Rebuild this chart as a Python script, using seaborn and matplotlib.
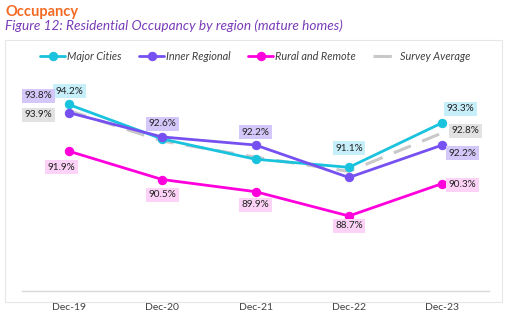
import matplotlib
matplotlib.use("Agg")
import matplotlib.pyplot as plt
from matplotlib.patches import Rectangle
import seaborn as sns
import pandas as pd

periods = ["Dec-19", "Dec-20", "Dec-21", "Dec-22", "Dec-23"]
major_cities = [94.2, 92.5, 91.5, 91.1, 93.3]
inner_regional = [93.8, 92.6, 92.2, 90.6, 92.2]
rural_remote = [91.9, 90.5, 89.9, 88.7, 90.3]
survey_average = [93.9, 92.4, 91.6, 90.9, 92.8]

series_names = ["Major Cities", "Inner Regional", "Rural and Remote", "Survey Average"]
series_values = [major_cities, inner_regional, rural_remote, survey_average]
line_colors = ["#19c3dd", "#7650f0", "#ff00dc", "#c8c8c8"]
box_colors = ["#c6effa", "#d4c8fa", "#fcd2f6", "#e2e2e2"]

# which labels are shown: (series index, period index, dx, dy in pixels)
label_spec = [
    (0, 0, 1, 13), (0, 3, 0, 19), (0, 4, 18, 14),
    (1, 0, -30, 17), (1, 1, 0, 13), (1, 2, 0, 13), (1, 4, 20, -8),
    (2, 0, -7, -16), (2, 1, 0, -15), (2, 2, 0, -13), (2, 3, 0, -10), (2, 4, 20, -1),
    (3, 0, -30, -4), (3, 4, 23, 2),
]

rows = []
for name, vals in zip(series_names, series_values):
    for i, (p, v) in enumerate(zip(periods, vals)):
        rows.append({"period": p, "x": i, "value": v, "series": name})
df = pd.DataFrame(rows)

sns.set_theme(style="white")
plt.rcParams["font.family"] = ["Lato", "DejaVu Sans"]

fig = plt.figure(figsize=(5.07, 3.25), dpi=100)
fig.patch.set_facecolor("white")

# outer frame box
fig.patches.append(Rectangle((5 / 507, 1 - 302 / 325), 497 / 507, 262 / 325,
                             transform=fig.transFigure, fill=False,
                             edgecolor="#e6e6e6", linewidth=0.8))

fig.text(5 / 507, 1 - 16 / 325, "Occupancy", color="#f26a22", fontsize=10.5,
         fontweight="bold", va="baseline")
fig.text(5 / 507, 1 - 30 / 325, "Figure 12: Residential Occupancy by region (mature homes)",
         color="#7a3cb8", fontsize=9.8, style="italic", va="baseline")

ax = fig.add_axes([22 / 507, 1 - 291 / 325, 467 / 507, 223 / 325])

for k, name in enumerate(series_names):
    sub = df[df["series"] == name]
    if name == "Survey Average":
        sns.lineplot(data=sub, x="x", y="value", ax=ax, color=line_colors[k],
                     linewidth=2.2, dashes=False, label=name, zorder=2)
        ax.lines[-1].set_dashes([6, 4])
    else:
        sns.lineplot(data=sub, x="x", y="value", ax=ax, color=line_colors[k],
                     linewidth=2.0, marker="o", markersize=6,
                     markeredgecolor=line_colors[k], label=name, zorder=3)

for s, i, dx, dy in label_spec:
    v = series_values[s][i]
    ax.annotate(f"{v:.1f}%", xy=(i, v), xytext=(dx, dy), textcoords="offset pixels",
                ha="center", va="center", fontsize=7.2, color="#222222",
                bbox=dict(boxstyle="square,pad=0.25", facecolor=box_colors[s],
                          edgecolor="none"), zorder=5)

ax.set_xlim(-0.5, 4.5)
ax.set_ylim(85, 96)
ax.set_xticks(range(len(periods)))
ax.set_xticklabels(periods, fontsize=7.5, color="#404040")
ax.set_yticks([])
ax.set_xlabel("")
ax.set_ylabel("")
ax.tick_params(axis="x", length=0, pad=9)
for side in ["top", "right", "left"]:
    ax.spines[side].set_visible(False)
ax.spines["bottom"].set_color("#d9d9d9")
ax.spines["bottom"].set_linewidth(1)
ax.set_facecolor("white")

leg = ax.legend(loc="center", bbox_to_anchor=(0.5, (68 - 56) / 223 + 1.0), ncol=4,
                frameon=False, handlelength=2.3, columnspacing=1.6,
                handletextpad=0.2, prop={"style": "italic", "size": 7.8})
for t in leg.get_texts():
    t.set_color("#404040")

fig.savefig("out.png", dpi=100, facecolor="white")
